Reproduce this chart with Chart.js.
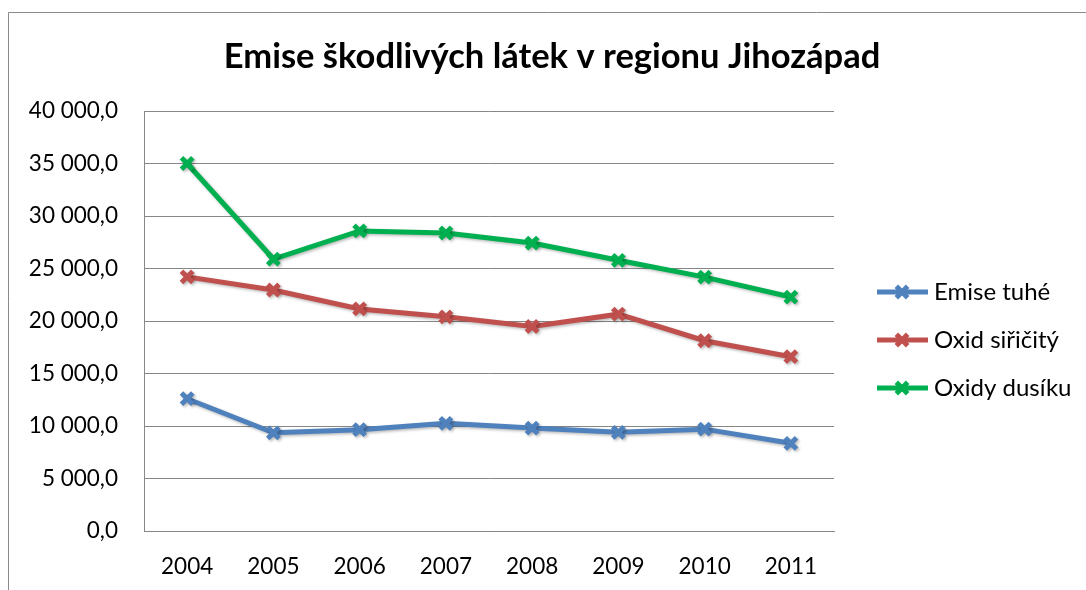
<!DOCTYPE html>
<html>
<head>
<meta charset="utf-8">
<script src="https://cdn.jsdelivr.net/npm/chart.js@4.4.1/dist/chart.umd.min.js"></script>
<style>
  html, body { margin: 0; padding: 0; background: #fff; }
  #wrap { position: absolute; left: 0; top: 0; width: 1086px; height: 590px; }
</style>
</head>
<body>
<div id="wrap"><canvas id="myChart" width="1086" height="590"></canvas></div>
<script>
const years = ["2004", "2005", "2006", "2007", "2008", "2009", "2010", "2011"];
const emiseTuhe = [12600, 9350, 9650, 10250, 9800, 9400, 9700, 8350];
const oxidSiricity = [24200, 22950, 21150, 20400, 19480, 20650, 18120, 16600];
const oxidyDusiku = [35000, 25900, 28580, 28380, 27420, 25780, 24180, 22280];
const seriesNames = ["Emise tuhé", "Oxid siřičitý", "Oxidy dusíku"];
const seriesColors = ["#4F81BD", "#C0504D", "#00B050"];
const yTicks = [0, 5000, 10000, 15000, 20000, 25000, 30000, 35000, 40000];
const chartTitle = "Emise škodlivých látek v regionu Jihozápad";

const fontFamily = "Lato, 'Open Sans', sans-serif";
const gridColor = "#878787";

// cislo ve tvaru "35 000,0"
function formatCz(v) {
  const whole = Math.round(v).toString().replace(/\B(?=(\d{3})+(?!\d))/g, " ");
  return whole + ",0";
}

// ramecek + nadpis (nadpis rucne, aby byl na stredu celeho obrazku)
const framePlugin = {
  id: "frame",
  beforeDraw(chart) {
    const ctx = chart.ctx;
    ctx.save();
    ctx.strokeStyle = "#8a8a8a";
    ctx.lineWidth = 1;
    ctx.beginPath();
    ctx.moveTo(8.5, 590);
    ctx.lineTo(8.5, 12.5);
    ctx.lineTo(1086, 12.5);
    ctx.stroke();
    ctx.fillStyle = "#000";
    ctx.font = "bold 34.5px " + fontFamily;
    ctx.textAlign = "center";
    ctx.textBaseline = "middle";
    ctx.fillText(chartTitle, 552, 57);
    ctx.restore();
  }
};

// jemny stin pod carami jako v Excelu
const shadowPlugin = {
  id: "shadow",
  beforeDatasetsDraw(chart) {
    const ctx = chart.ctx;
    ctx.save();
    ctx.shadowColor = "rgba(0,0,0,0.28)";
    ctx.shadowBlur = 3;
    ctx.shadowOffsetX = 1.5;
    ctx.shadowOffsetY = 1.5;
  },
  afterDatasetsDraw(chart) {
    chart.ctx.restore();
  }
};

// legenda vpravo: cara + znacka + text
const legendPlugin = {
  id: "sideLegend",
  afterDraw(chart) {
    const ctx = chart.ctx;
    const area = chart.chartArea;
    ctx.save();
    chart.data.datasets.forEach((ds, i) => {
      const y = 292 + i * 48;
      const x0 = area.right + 43;
      ctx.strokeStyle = ds.borderColor;
      ctx.lineWidth = 5;
      ctx.beginPath();
      ctx.moveTo(x0, y);
      ctx.lineTo(x0 + 51, y);
      ctx.stroke();
      Chart.helpers.drawPoint(ctx, {
        pointStyle: "crossRot",
        radius: 8,
        borderWidth: 5
      }, x0 + 25, y);
      ctx.fillStyle = "#000";
      ctx.font = "24px " + fontFamily;
      ctx.textAlign = "left";
      ctx.textBaseline = "middle";
      ctx.fillText(ds.label, x0 + 57, y);
    });
    ctx.restore();
  }
};

const series = [emiseTuhe, oxidSiricity, oxidyDusiku];

new Chart(document.getElementById("myChart"), {
  type: "line",
  data: {
    labels: years,
    datasets: series.map((values, i) => ({
      label: seriesNames[i],
      data: values,
      borderColor: seriesColors[i],
      backgroundColor: seriesColors[i],
      borderWidth: 5,
      pointStyle: "crossRot",
      pointRadius: 8,
      pointBorderWidth: 5,
      pointBorderColor: seriesColors[i],
      tension: 0,
      fill: false
    }))
  },
  options: {
    responsive: false,
    animation: false,
    devicePixelRatio: 1,
    layout: { padding: { left: 0, right: 252, top: 111, bottom: 0 } },
    plugins: {
      legend: { display: false },
      tooltip: { enabled: false },
      title: { display: false }
    },
    scales: {
      x: {
        offset: true,
        afterFit(scale) { scale.height = 59; },
        grid: { display: false, drawTicks: false },
        border: { display: true, color: gridColor, width: 1 },
        ticks: {
          color: "#000",
          padding: 22,
          font: { family: fontFamily, size: 22.5 }
        }
      },
      y: {
        min: 0,
        max: 40000,
        afterFit(scale) { scale.width = 144; },
        afterBuildTicks(scale) { scale.ticks = yTicks.map(v => ({ value: v })); },
        grid: { color: gridColor, lineWidth: 1, drawTicks: false },
        border: { display: true, color: gridColor, width: 1 },
        ticks: {
          color: "#000",
          padding: 26,
          font: { family: fontFamily, size: 22.5 },
          callback: v => formatCz(v)
        }
      }
    }
  },
  plugins: [framePlugin, shadowPlugin, legendPlugin]
});
</script>
</body>
</html>
